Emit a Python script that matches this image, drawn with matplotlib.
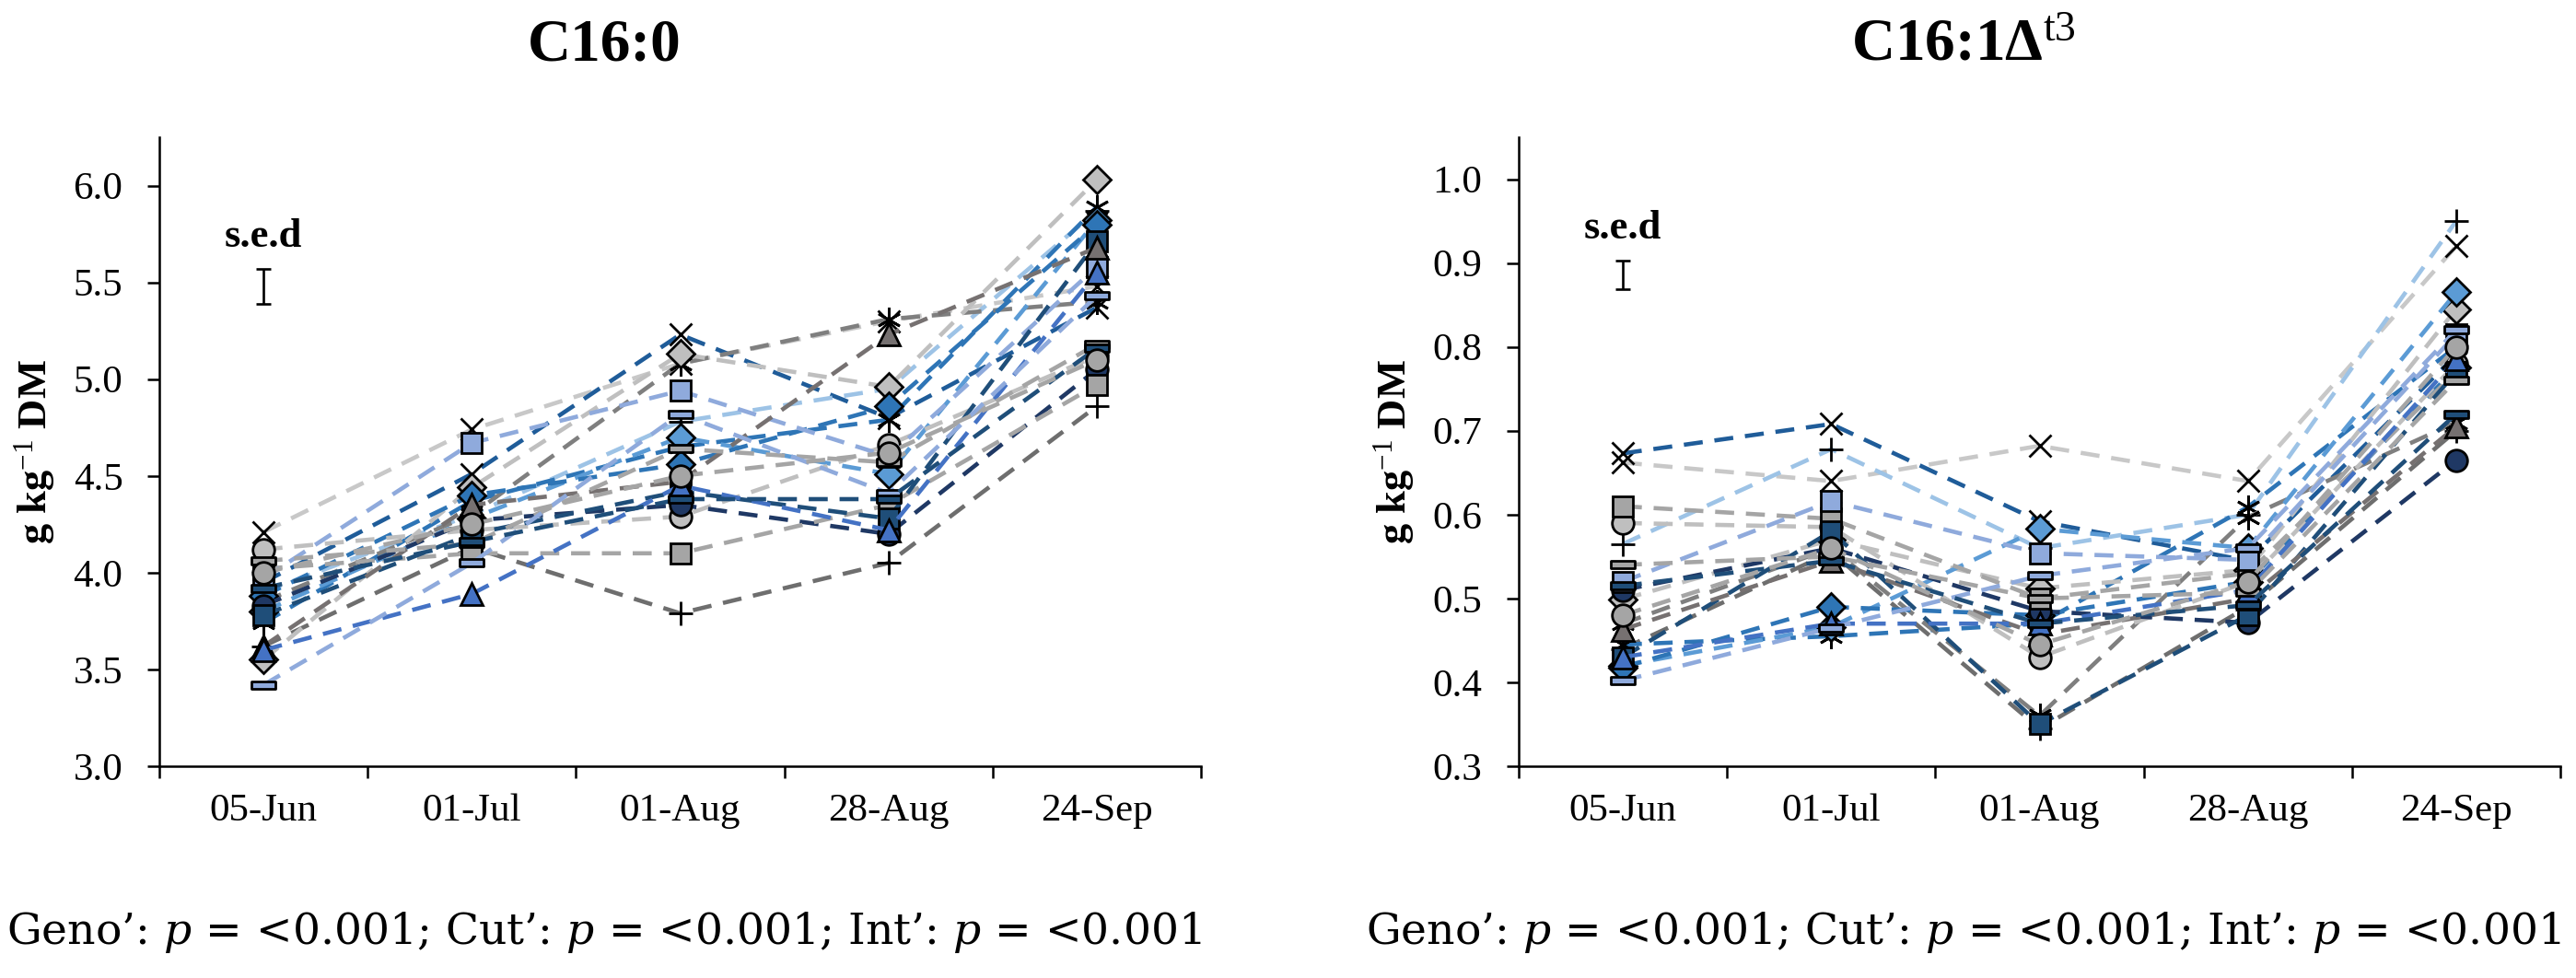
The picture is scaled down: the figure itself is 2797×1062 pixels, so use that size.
import matplotlib
matplotlib.use("Agg")
import matplotlib.pyplot as plt
from matplotlib.path import Path

plt.rcParams["font.family"] = ["Liberation Serif", "DejaVu Serif"]
plt.rcParams["mathtext.fontset"] = "custom"
plt.rcParams["mathtext.rm"] = "Liberation Serif"
plt.rcParams["mathtext.it"] = "Liberation Serif:italic"
plt.rcParams["mathtext.bf"] = "Liberation Serif:bold"

dates = ["05-Jun", "01-Jul", "01-Aug", "28-Aug", "24-Sep"]

# one entry per genotype (line colour, marker kind)
colours = ["#C8C8C8", "#1F5C99", "#6E6E6E", "#9DC3E6", "#2E75B6",
           "#7F7F7F", "#BFBFBF", "#5B9BD5", "#2E75B6", "#BFBFBF",
           "#1F3864", "#A5A5A5", "#8FAADC", "#1F4E79", "#767171",
           "#4472C4", "#A5A5A5", "#8FAADC", "#1F4E79", "#A5A5A5"]
kinds = ["x", "x", "+", "+", "star", "star", "D", "D", "D", "o",
         "o", "s", "s", "s", "^", "^", "dash", "dash", "dash", "o"]

# C16:0, g/kg DM
c160 = [
    [4.21, 4.74, 5.08, 5.30, 5.48],
    [3.95, 4.51, 5.23, 4.80, 5.37],
    [3.62, 4.13, 3.79, 4.05, 4.86],
    [3.90, 4.30, 4.78, 4.95, 5.87],
    [3.74, 4.37, 4.65, 4.79, 5.89],
    [3.85, 4.30, 5.08, 5.31, 5.40],
    [3.55, 4.44, 5.13, 4.96, 6.03],
    [3.80, 4.28, 4.70, 4.51, 5.82],
    [3.88, 4.40, 4.56, 4.86, 5.80],
    [4.12, 4.22, 4.29, 4.66, 5.12],
    [3.83, 4.27, 4.35, 4.20, 5.05],
    [4.02, 4.10, 4.10, 4.35, 4.97],
    [3.97, 4.67, 4.94, 4.60, 5.58],
    [3.78, 4.20, 4.42, 4.28, 5.71],
    [3.62, 4.35, 4.47, 5.23, 5.68],
    [3.60, 3.89, 4.45, 4.22, 5.55],
    [4.06, 4.15, 4.64, 4.57, 5.18],
    [3.42, 4.05, 4.82, 4.41, 5.43],
    [3.92, 4.16, 4.38, 4.38, 5.16],
    [4.00, 4.25, 4.50, 4.62, 5.10],
]

# C16:1 delta t3, g/kg DM
c161 = [
    [0.662, 0.640, 0.682, 0.640, 0.920],
    [0.673, 0.708, 0.592, 0.545, 0.790],
    [0.440, 0.555, 0.345, 0.490, 0.700],
    [0.565, 0.678, 0.560, 0.600, 0.950],
    [0.445, 0.455, 0.470, 0.609, 0.800],
    [0.470, 0.560, 0.360, 0.597, 0.710],
    [0.499, 0.570, 0.512, 0.534, 0.845],
    [0.420, 0.466, 0.583, 0.560, 0.865],
    [0.418, 0.490, 0.480, 0.520, 0.775],
    [0.590, 0.585, 0.430, 0.520, 0.780],
    [0.510, 0.560, 0.485, 0.471, 0.665],
    [0.610, 0.595, 0.500, 0.530, 0.770],
    [0.520, 0.616, 0.554, 0.546, 0.815],
    [0.430, 0.580, 0.350, 0.480, 0.770],
    [0.463, 0.545, 0.457, 0.500, 0.705],
    [0.430, 0.470, 0.470, 0.510, 0.785],
    [0.540, 0.550, 0.500, 0.507, 0.760],
    [0.402, 0.465, 0.527, 0.560, 0.820],
    [0.515, 0.545, 0.470, 0.492, 0.720],
    [0.480, 0.560, 0.445, 0.520, 0.800],
]

sed_c160 = (5.48, 0.09)
sed_c161 = (0.886, 0.017)
stats = "Geno’: $p$ = <0.001; Cut’: $p$ = <0.001; Int’: $p$ = <0.001"

dash_path = Path([(-1, -0.32), (1, -0.32), (1, 0.32), (-1, 0.32), (-1, -0.32)],
                 [Path.MOVETO, Path.LINETO, Path.LINETO, Path.LINETO, Path.CLOSEPOLY])
marker_map = {"x": ("x", 17), "+": ("+", 19), "star": ((6, 2, 0), 19),
              "D": ("D", 15), "o": ("o", 17), "s": ("s", 16),
              "^": ("^", 17), "dash": (dash_path, 19)}

fig = plt.figure(figsize=(27.97, 10.62), dpi=100)
ax_w = 1131 / 2797
ax_b = 1 - 832 / 1062
ax_h = (832 - 149) / 1062
lefts = [173 / 2797, 1649 / 2797]


def draw_panel(ax, data, ylim, yticks, sed, title):
    x = range(len(dates))
    for vals, col, kind in zip(data, colours, kinds):
        mk, ms = marker_map[kind]
        ax.plot(x, vals, color=col, lw=3.3, dashes=(4.5, 2.8), marker=mk, ms=ms,
                mfc=col, mec="black", mew=2.0)
    ax.errorbar([0], [sed[0]], yerr=[sed[1]], color="black", capsize=6,
                elinewidth=1.9, capthick=1.9)
    ax.text(0, sed[0] + sed[1] + (ylim[1] - ylim[0]) * 0.035, "s.e.d", ha="center",
            va="baseline", fontsize=32, fontweight="bold")
    ax.set_xlim(-0.5, len(dates) - 0.5)
    ax.set_ylim(*ylim)
    ax.set_xticks([i - 0.5 for i in range(len(dates) + 1)])
    ax.set_xticklabels([])
    ax.set_xticks(list(x), minor=True)
    ax.set_xticklabels(dates, minor=True)
    ax.set_yticks(yticks)
    ax.set_yticklabels([f"{v:.1f}" for v in yticks])
    ax.tick_params(axis="both", which="major", direction="out", length=9.5,
                   width=1.8, labelsize=31, pad=19)
    ax.tick_params(axis="x", which="minor", length=0, labelsize=31, pad=21)
    for s in ["top", "right"]:
        ax.spines[s].set_visible(False)
    for s in ["left", "bottom"]:
        ax.spines[s].set_linewidth(1.8)
    ax.set_ylabel("g kg$^{\\mathrm{-1}}$ DM", fontsize=32, fontweight="bold")
    ax.yaxis.set_label_coords(-0.098, 0.5)
    pos = ax.get_position()
    cx = pos.x0 + 0.427 * pos.width
    fig.text(cx, 1 - 65 / 1062, title, ha="center", va="baseline",
             fontsize=47, fontweight="bold")
    fig.text(cx, 1 - 1025 / 1062, stats, ha="center", va="baseline",
             fontsize=34, family="DejaVu Serif", math_fontfamily="dejavuserif")


ax1 = fig.add_axes([lefts[0], ax_b, ax_w, ax_h])
draw_panel(ax1, c160, (3.0, 6.25), [3.0 + 0.5 * i for i in range(7)], sed_c160, "C16:0")
ax2 = fig.add_axes([lefts[1], ax_b, ax_w, ax_h])
draw_panel(ax2, c161, (0.3, 1.05), [0.3 + 0.1 * i for i in range(8)], sed_c161,
           "C16:1Δ$^{\\mathrm{t3}}$")

fig.savefig("out.png", dpi=100)
